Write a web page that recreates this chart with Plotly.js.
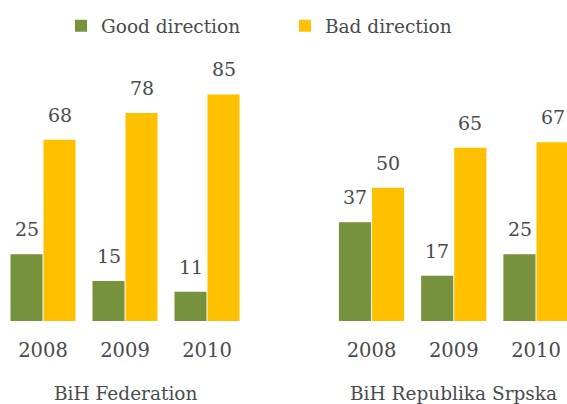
<!DOCTYPE html>
<html><head><meta charset="utf-8">
<script src="https://cdn.plot.ly/plotly-3.0.1.min.js"></script>
<style>html,body{margin:0;padding:0;background:#fff}</style>
</head><body><div id="chart" style="width:567px;height:404px"></div>
<script>
const years = ['2008', '2009', '2010'];
const fedGood = [25, 15, 11];
const fedBad = [68, 78, 85];
const rsGood = [37, 17, 25];
const rsBad = [50, 65, 67];
const seriesNames = ['Good direction', 'Bad direction'];
const panelTitles = ['BiH Federation', 'BiH Republika Srpska'];
const colors = ['#76923C', '#FFC000'];

const FONT = '"DejaVu Serif", "Liberation Serif", serif';
const TXT = '#4a4a4e';

const panels = [
  {xa: 'x', series: [fedGood, fedBad], title: panelTitles[0]},
  {xa: 'x2', series: [rsGood, rsBad], title: panelTitles[1]}
];

const traces = [];
const annotations = [];
panels.forEach((p, pi) => {
  p.series.forEach((vals, si) => {
    traces.push({
      type: 'bar', x: years, y: vals, name: seriesNames[si],
      xaxis: p.xa, yaxis: 'y',
      marker: {color: colors[si]},
      showlegend: pi === 0,
      legend: si === 0 ? 'legend' : 'legend2',
      hoverinfo: 'x+y+name'
    });
    vals.forEach((v, i) => {
      annotations.push({
        xref: p.xa, yref: 'y', x: i, y: v,
        text: String(v), showarrow: false,
        xanchor: 'center', yanchor: 'bottom',
        xshift: si === 0 ? -16.5 : 16.5, yshift: 12,
        font: {family: FONT, size: 19, color: TXT}
      });
    });
  });
  annotations.push({
    xref: p.xa, yref: 'paper', x: (years.length - 1) / 2, y: 0,
    text: p.title, showarrow: false,
    xanchor: 'center', yanchor: 'top', yshift: -60,
    font: {family: FONT, size: 18.5, color: TXT}
  });
});

const legendBase = {
  orientation: 'h', yanchor: 'middle', y: 0.918, xanchor: 'left',
  bgcolor: 'rgba(0,0,0,0)', borderwidth: 0,
  font: {family: FONT, size: 18.5, color: TXT}
};

const layout = {
  width: 567, height: 404,
  margin: {l: 0, r: 0, t: 0, b: 83},
  paper_bgcolor: '#ffffff', plot_bgcolor: '#ffffff',
  barmode: 'group', bargap: 0.195, bargroupgap: 0.03,
  showlegend: true,
  legend: Object.assign({}, legendBase, {x: 61 / 567}),
  legend2: Object.assign({}, legendBase, {x: 285 / 567}),
  xaxis: {
    type: 'category', domain: [2 / 567, 248 / 567], range: [-0.5, 2.5],
    showgrid: false, zeroline: false, showline: false, ticks: '',
    tickfont: {family: FONT, size: 19.5, color: TXT}, ticklabelstandoff: 15,
    fixedrange: true
  },
  xaxis2: {
    type: 'category', domain: [330.4 / 567, 1], range: [-0.5, 2.377],
    anchor: 'y',
    showgrid: false, zeroline: false, showline: false, ticks: '',
    tickfont: {family: FONT, size: 19.5, color: TXT}, ticklabelstandoff: 15,
    fixedrange: true
  },
  yaxis: {
    range: [0, 120.4], visible: false, showgrid: false, zeroline: false,
    fixedrange: true
  },
  annotations: annotations
};

Plotly.newPlot('chart', traces, layout, {displayModeBar: false, staticPlot: true});
</script>
</body></html>
